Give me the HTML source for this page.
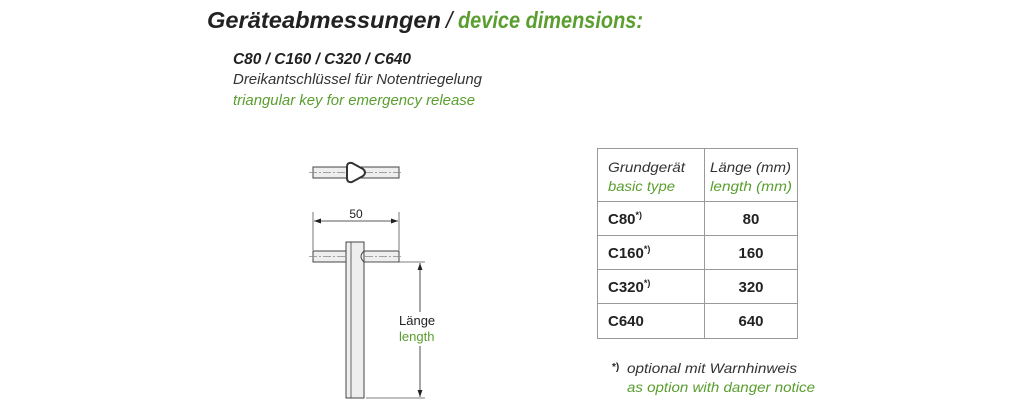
<!DOCTYPE html>
<html><head><meta charset="utf-8"><style>
html,body{margin:0;padding:0;background:#fff;}
svg{display:block;font-family:"Liberation Sans",sans-serif;}
.it{font-style:italic;}
</style></head><body>
<svg width="1024" height="410" viewBox="0 0 1024 410" xmlns="http://www.w3.org/2000/svg">
<defs>
<marker id="ar" viewBox="0 0 10 10" refX="10" refY="5" markerWidth="10" markerHeight="7" markerUnits="userSpaceOnUse" orient="auto-start-reverse"><path d="M0,1.5 L10,5 L0,8.5z" fill="#222"/></marker>
</defs>
<text x="207" y="28" font-size="23" font-weight="bold" class="it" fill="#222" textLength="234" lengthAdjust="spacingAndGlyphs">Geräteabmessungen</text>
<text x="446" y="28" font-size="23" class="it" fill="#222">/</text>
<text x="458" y="28" font-size="23" font-weight="bold" class="it" fill="#5a9e2f" textLength="185" lengthAdjust="spacingAndGlyphs">device dimensions:</text>
<text x="233" y="64" font-size="16" font-weight="bold" class="it" fill="#222" textLength="178" lengthAdjust="spacingAndGlyphs">C80 / C160 / C320 / C640</text>
<text x="233" y="84" font-size="15" class="it" fill="#333" textLength="249" lengthAdjust="spacingAndGlyphs">Dreikantschlüssel für Notentriegelung</text>
<text x="233" y="105" font-size="15" class="it" fill="#5a9e2f" textLength="242" lengthAdjust="spacingAndGlyphs">triangular key for emergency release</text>

<!-- top view -->
<rect x="313" y="167" width="86" height="11" fill="#eee" stroke="#444" stroke-width="1"/>
<line x1="309" y1="172.5" x2="403" y2="172.5" stroke="#888" stroke-width="0.8" stroke-dasharray="8,2,2,2"/>
<path d="M347,167 Q347,162 352,163 L363,169 Q367,172.5 363,176 L352,182 Q347,183 347,178 Z" fill="#fff" stroke="#333" stroke-width="2" stroke-linejoin="round"/>

<!-- side view -->
<line x1="313" y1="212" x2="313" y2="250" stroke="#555" stroke-width="0.8"/>
<line x1="399" y1="212" x2="399" y2="250" stroke="#555" stroke-width="0.8"/>
<line x1="314" y1="221" x2="398" y2="221" stroke="#222" stroke-width="0.8" marker-start="url(#ar)" marker-end="url(#ar)"/>
<text x="356" y="218" font-size="12" fill="#222" text-anchor="middle">50</text>
<rect x="313" y="251" width="86" height="11" fill="#eee" stroke="#444" stroke-width="1"/>
<line x1="309" y1="256.5" x2="403" y2="256.5" stroke="#888" stroke-width="0.8" stroke-dasharray="8,2,2,2"/>
<rect x="346" y="242" width="18" height="156" fill="#eee" stroke="#444" stroke-width="1"/>
<line x1="351" y1="242" x2="351" y2="398" stroke="#444" stroke-width="0.8"/>
<path d="M364,251 Q358,256.5 364,262" fill="none" stroke="#444" stroke-width="1"/>
<line x1="366" y1="262" x2="425" y2="262" stroke="#555" stroke-width="0.8"/>
<line x1="366" y1="398" x2="425" y2="398" stroke="#555" stroke-width="0.8"/>
<line x1="420" y1="263" x2="420" y2="397" stroke="#222" stroke-width="0.8" marker-start="url(#ar)" marker-end="url(#ar)"/>
<rect x="398" y="312" width="44" height="34" fill="#fff"/>
<text x="399" y="325" font-size="13" fill="#222">Länge</text>
<text x="399" y="341" font-size="13" fill="#5a9e2f">length</text>

<!-- table -->
<g stroke="#999" stroke-width="1" fill="none">
<rect x="597.5" y="148.5" width="200" height="190"/>
<line x1="704.5" y1="148" x2="704.5" y2="339"/>
<line x1="597" y1="201.5" x2="798" y2="201.5"/>
<line x1="597" y1="235.5" x2="798" y2="235.5"/>
<line x1="597" y1="269.5" x2="798" y2="269.5"/>
<line x1="597" y1="303.5" x2="798" y2="303.5"/>
</g>
<text x="608" y="172" font-size="14" class="it" fill="#333" textLength="77" lengthAdjust="spacingAndGlyphs">Grundgerät</text>
<text x="608" y="191" font-size="14" class="it" fill="#5a9e2f" textLength="67" lengthAdjust="spacingAndGlyphs">basic type</text>
<text x="710" y="172" font-size="14" class="it" fill="#333" textLength="81" lengthAdjust="spacingAndGlyphs">Länge (mm)</text>
<text x="710" y="191" font-size="14" class="it" fill="#5a9e2f" textLength="82" lengthAdjust="spacingAndGlyphs">length (mm)</text>
<g font-size="15" font-weight="bold" fill="#222">
<text x="608" y="224">C80<tspan font-size="9" dy="-6">*)</tspan></text>
<text x="608" y="258">C160<tspan font-size="9" dy="-6">*)</tspan></text>
<text x="608" y="292">C320<tspan font-size="9" dy="-6">*)</tspan></text>
<text x="608" y="326">C640</text>
<text x="751" y="224" text-anchor="middle">80</text>
<text x="751" y="258" text-anchor="middle">160</text>
<text x="751" y="292" text-anchor="middle">320</text>
<text x="751" y="326" text-anchor="middle">640</text>
</g>
<text x="612" y="370" font-size="10" font-weight="bold" fill="#222">*)</text>
<text x="627" y="373" font-size="14" class="it" fill="#333" textLength="170" lengthAdjust="spacingAndGlyphs">optional mit Warnhinweis</text>
<text x="627" y="392" font-size="14" class="it" fill="#5a9e2f" textLength="188" lengthAdjust="spacingAndGlyphs">as option with danger notice</text>
</svg>
</body></html>
